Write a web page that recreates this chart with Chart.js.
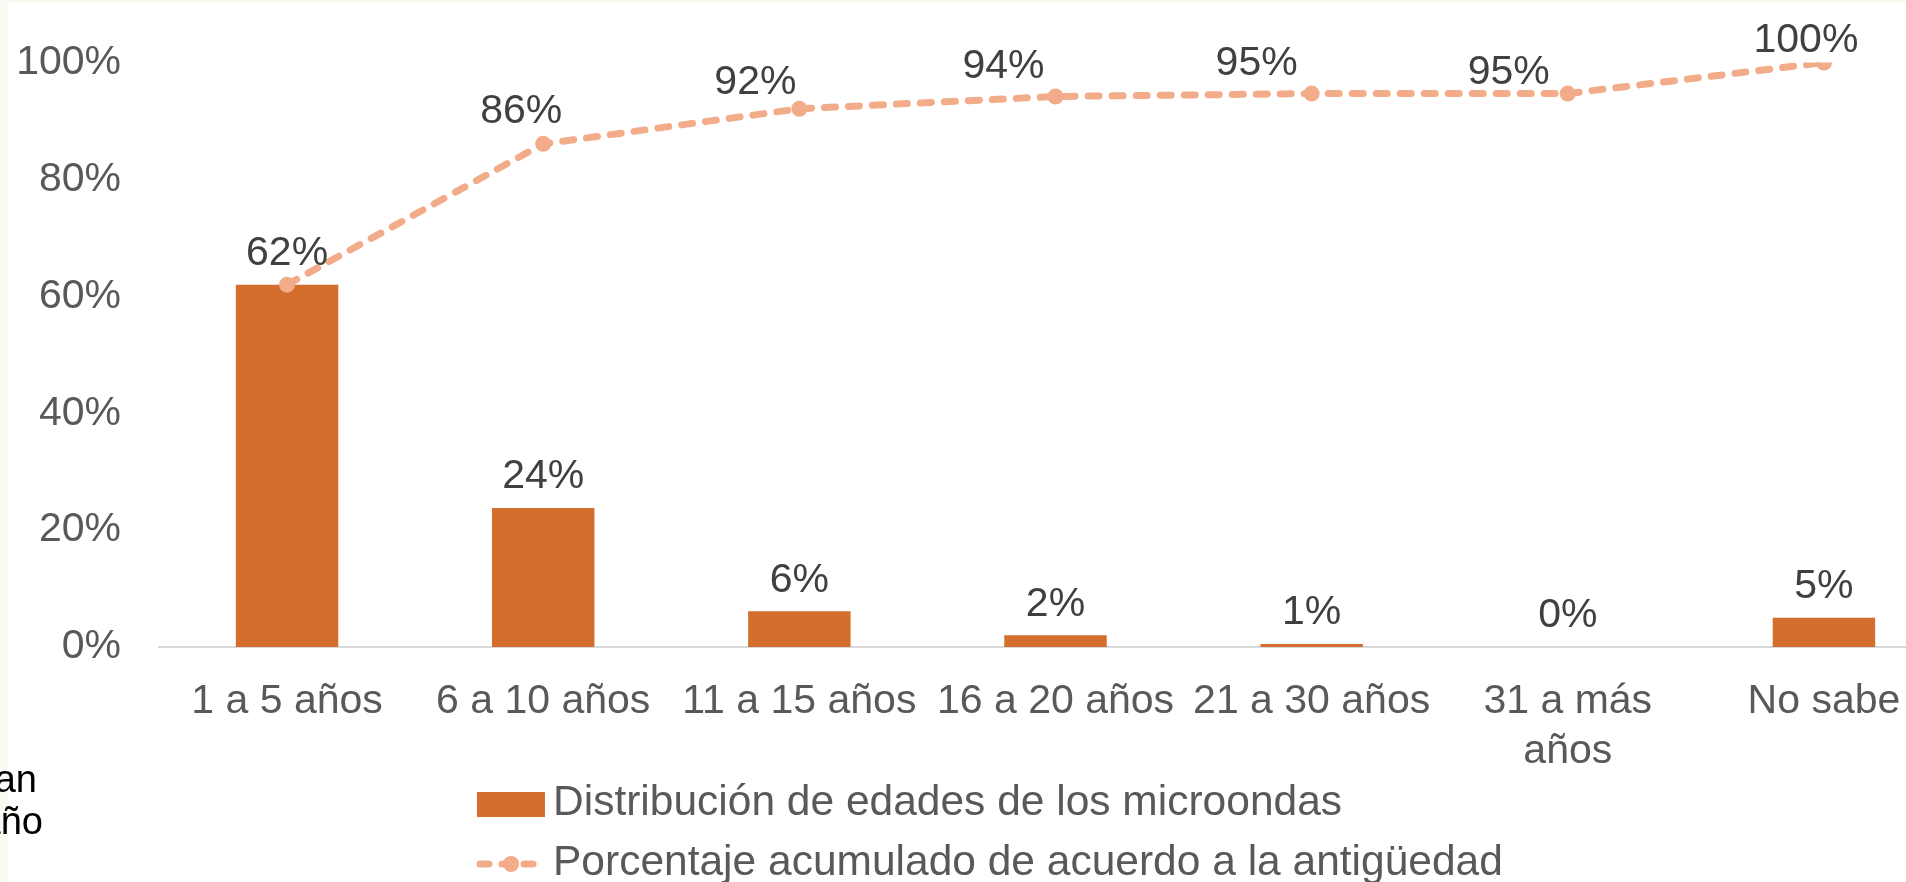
<!DOCTYPE html>
<html>
<head>
<meta charset="utf-8">
<script src="https://cdn.jsdelivr.net/npm/chart.js@4.4.1/dist/chart.umd.min.js"></script>
<style>
  html, body { margin: 0; padding: 0; background: #fff; overflow: hidden; }
  #wrap { position: absolute; left: 0; top: 0; width: 1960px; height: 882px; }
</style>
</head>
<body>
<div id="wrap"><canvas id="chart" width="1960" height="882"></canvas></div>
<script>
// data
var categories = ['1 a 5 años', '6 a 10 años', '11 a 15 años', '16 a 20 años', '21 a 30 años', ['31 a más', 'años'], 'No sabe'];
var distribucion = [62.0, 23.8, 6.1, 2.0, 0.5, 0, 5.0];
var acumulado = [62, 86.1, 92.1, 94.2, 94.7, 94.7, 100];
var yTicks = [0, 20, 40, 60, 80, 100];
var seriesNames = ['Distribución de edades de los microondas', 'Porcentaje acumulado de acuerdo a la antigüedad'];

var FONT = '"Liberation Sans", Arial, sans-serif';
var barColor = '#D36E2C';
var lineColor = '#F3AC8A';
// manual nudges for the cumulative labels (dx, height above the point)
var lineLabelShift = [[0, 31], [-22, 32], [-44, 26], [-52, 30], [-55, 30], [-59, 21], [-18, 22]];

var valueLabels = {
    id: 'valueLabels',
    afterDatasetsDraw: function(chart) {
        var ctx = chart.ctx;
        ctx.save();
        ctx.font = '41px ' + FONT;
        ctx.fillStyle = '#404040';
        ctx.textAlign = 'center';
        ctx.textBaseline = 'middle';
        chart.getDatasetMeta(0).data.forEach(function(bar, i) {
            ctx.fillText(Math.round(distribucion[i]) + '%', bar.x, bar.y - 31);
        });
        chart.getDatasetMeta(1).data.forEach(function(pt, i) {
            if (i === 0) return; // shares the bar label
            var s = lineLabelShift[i];
            ctx.fillText(Math.round(acumulado[i]) + '%', pt.x + s[0], pt.y - s[1]);
        });
        ctx.restore();
    }
};

var sideStuff = {
    id: 'sideStuff',
    afterDraw: function(chart) {
        var ctx = chart.ctx;
        var ds = chart.data.datasets;
        ctx.save();
        // faint strip of the slide behind on the left
        ctx.fillStyle = '#FAF9F3';
        ctx.fillRect(0, 0, 8, 882);
        ctx.fillRect(0, 0, 1906, 3);
        // cut off text from the neighbouring box
        ctx.fillStyle = '#000';
        ctx.font = '38px ' + FONT;
        ctx.textAlign = 'right';
        ctx.textBaseline = 'alphabetic';
        ctx.fillText('an', 37, 792);
        ctx.fillText('año', 43, 834);

        // legend
        ctx.font = '42.5px ' + FONT;
        ctx.textAlign = 'left';
        ctx.textBaseline = 'middle';
        ctx.fillStyle = ds[0].backgroundColor;
        ctx.fillRect(477, 792, 68, 25);
        ctx.fillStyle = '#595959';
        ctx.fillText(ds[0].label, 553, 803);

        ctx.strokeStyle = ds[1].borderColor;
        ctx.lineWidth = 7;
        ctx.lineCap = 'round';
        ctx.setLineDash([9, 13]);
        ctx.beginPath();
        ctx.moveTo(480, 864);
        ctx.lineTo(545, 864);
        ctx.stroke();
        ctx.setLineDash([]);
        ctx.fillStyle = ds[1].pointBackgroundColor;
        ctx.beginPath();
        ctx.arc(511, 864, 8, 0, Math.PI * 2);
        ctx.fill();
        ctx.fillStyle = '#595959';
        ctx.fillText(ds[1].label, 553, 863);
        ctx.restore();
    }
};

var ctx = document.getElementById('chart').getContext('2d');
var chart = new Chart(ctx, {
    data: {
        labels: categories,
        datasets: [{
            type: 'bar',
            label: seriesNames[0],
            data: distribucion,
            backgroundColor: barColor,
            borderWidth: 0,
            categoryPercentage: 1,
            barPercentage: 0.4,
            order: 2
        }, {
            type: 'line',
            label: seriesNames[1],
            data: acumulado,
            borderColor: lineColor,
            borderWidth: 7,
            borderDash: [11, 13],
            borderCapStyle: 'round',
            tension: 0,
            pointRadius: 8,
            pointBackgroundColor: lineColor,
            pointBorderWidth: 0,
            order: 1
        }]
    },
    options: {
        responsive: false,
        animation: false,
        layout: { padding: { left: 16, top: 62, right: 0, bottom: 0 } },
        plugins: {
            legend: { display: false },
            tooltip: { enabled: false }
        },
        scales: {
            x: {
                grid: { display: false, drawTicks: false },
                border: { display: true, color: '#D9D9D9', width: 2 },
                ticks: {
                    color: '#595959',
                    font: { family: FONT, size: 41, lineHeight: 1.22 },
                    padding: 30,
                    autoSkip: false,
                    maxRotation: 0
                },
                afterFit: function(s) { s.height = 235; }
            },
            y: {
                min: 0,
                max: 100,
                grid: { display: false, drawTicks: false },
                border: { display: false },
                afterBuildTicks: function(s) {
                    s.ticks = yTicks.map(function(v) { return { value: v }; });
                },
                ticks: {
                    color: '#595959',
                    font: { family: FONT, size: 41 },
                    padding: 38,
                    callback: function(v) { return v + '%'; }
                },
                afterFit: function(s) { s.width = 143; }
            }
        }
    },
    plugins: [valueLabels, sideStuff]
});
</script>
</body>
</html>
